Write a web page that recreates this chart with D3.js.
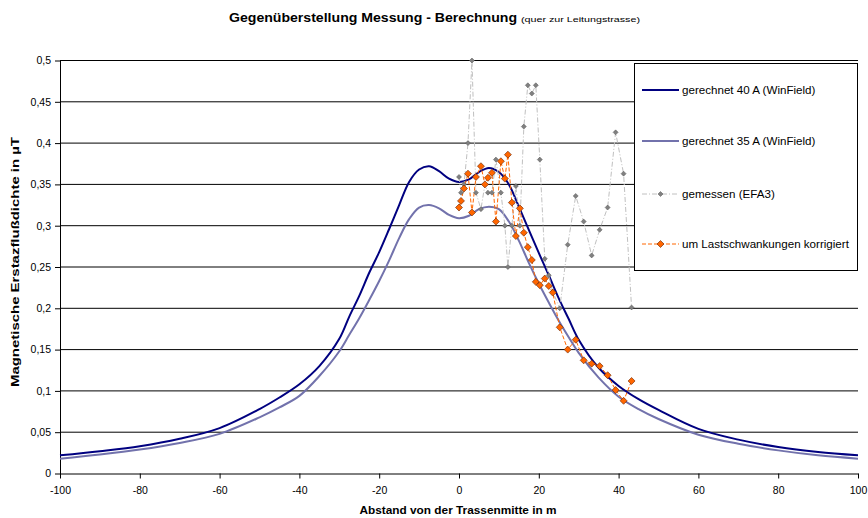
<!DOCTYPE html>
<html>
<head>
<meta charset="utf-8">
<script src="https://cdn.jsdelivr.net/npm/d3@7"></script>
<style>
  body { margin: 0; background: #fff; }
  text { font-family: Arial, "Liberation Sans", sans-serif; }
</style>
</head>
<body>
<svg id="chart" width="868" height="518"></svg>
<script>
// computed curves (WinField)
var calcX = [-100, -90, -80, -70, -60, -50, -45, -40, -35, -30, -27.5, -25, -22.5, -20, -17.5, -15, -12.5, -10, -7.5, -5, -2.5,
  0, 2.5, 5, 7.5, 10, 12.5, 15, 17.5, 20, 22.5, 25, 27.5, 30, 35, 40, 45, 50, 60, 70, 80, 90, 100];
var calc40 = [0.022, 0.027, 0.033, 0.042, 0.055, 0.078, 0.092, 0.108, 0.13, 0.163, 0.19, 0.215, 0.243, 0.268, 0.296, 0.325, 0.353, 0.368, 0.372, 0.366, 0.357,
  0.353, 0.356, 0.365, 0.37, 0.365, 0.35, 0.323, 0.295, 0.267, 0.24, 0.212, 0.187, 0.162, 0.128, 0.106, 0.09, 0.077, 0.054, 0.041, 0.032, 0.026, 0.022];
var calc35 = [0.018, 0.023, 0.029, 0.037, 0.048, 0.068, 0.08, 0.094, 0.118, 0.148, 0.168, 0.188, 0.21, 0.233, 0.258, 0.285, 0.308, 0.322, 0.325, 0.321, 0.313,
  0.309, 0.312, 0.32, 0.323, 0.32, 0.305, 0.282, 0.255, 0.23, 0.207, 0.185, 0.165, 0.146, 0.116, 0.093, 0.078, 0.066, 0.047, 0.036, 0.028, 0.022, 0.018];

// measurement positions and values
var measX = [0, 0.5, 1.25, 2.25, 3.25, 4.25, 5.5, 6.5, 7.25, 8.25, 9.25, 10.5, 11.5, 12.25, 13.25, 14.25, 15.25, 16.25, 17.25, 18.25, 19.25, 20.25,
  21.5, 22.5, 23.5, 25.25, 27.25, 29.25, 31.25, 33.25, 35.25, 37.25, 39.25, 41.25, 43.25];
var measured = [0.359, 0.34, 0.35, 0.4, 0.5, 0.34, 0.32, 0.35, 0.34, 0.34, 0.38, 0.34, 0.3, 0.25, 0.3, 0.348, 0.30, 0.42, 0.47, 0.46, 0.47, 0.38,
  0.26, 0.24, 0.22, 0.2, 0.277, 0.336, 0.305, 0.264, 0.295, 0.322, 0.413, 0.363, 0.201];
var corrected = [0.322, 0.33, 0.345, 0.363, 0.316, 0.359, 0.372, 0.35, 0.358, 0.364, 0.305, 0.378, 0.357, 0.386, 0.328, 0.2875, 0.321, 0.2915, 0.274, 0.2585, 0.232, 0.228,
  0.236, 0.227, 0.219, 0.177, 0.15, 0.162, 0.137, 0.133, 0.13, 0.119, 0.101, 0.088, 0.112];

var xTicks = [-100, -80, -60, -40, -20, 0, 20, 40, 60, 80, 100];
var yTicks = [0, 0.05, 0.1, 0.15, 0.2, 0.25, 0.3, 0.35, 0.4, 0.45, 0.5];
var legendLabels = ['gerechnet 40 A (WinField)', 'gerechnet 35 A (WinField)', 'gemessen (EFA3)', 'um Lastschwankungen korrigiert'];

var svg = d3.select('#chart');
var pL = 60, pR = 858, pT = 60.5, pB = 473.5;

var x = d3.scaleLinear().domain([-100, 100]).range([pL, pR]);
var y = d3.scaleLinear().domain([0, 0.5]).range([pB, pT]);

// gridlines
svg.append('g').selectAll('line')
  .data(yTicks.filter(function(d) { return d > 0; }))
  .enter().append('line')
    .attr('x1', pL).attr('x2', pR)
    .attr('y1', function(d) { return y(d); })
    .attr('y2', function(d) { return y(d); })
    .attr('stroke', '#000').attr('stroke-width', 1);

var comma = function(d) { return String(d).replace('.', ','); };

var xAxis = svg.append('g')
  .attr('transform', 'translate(0,' + pB + ')')
  .call(d3.axisBottom(x).tickValues(xTicks).tickSize(5).tickSizeOuter(0).tickFormat(comma));
var yAxis = svg.append('g')
  .attr('transform', 'translate(' + pL + ',0)')
  .call(d3.axisLeft(y).tickValues(yTicks).tickSize(5).tickSizeOuter(0).tickFormat(comma));
[xAxis, yAxis].forEach(function(a) {
  a.selectAll('text').attr('font-size', 10.5).attr('fill', '#000')
    .attr('font-family', 'Arial, "Liberation Sans", sans-serif');
  a.selectAll('line,path').attr('stroke', '#000');
});
xAxis.selectAll('text').attr('dy', '1.15em');
yAxis.selectAll('text').attr('x', -9);

var pts = function(xs, ys) { return xs.map(function(v, i) { return [v, ys[i]]; }); };

var smooth = d3.line()
  .x(function(d) { return x(d[0]); })
  .y(function(d) { return y(d[1]); })
  .curve(d3.curveCatmullRom.alpha(0.5));
var straight = d3.line()
  .x(function(d) { return x(d[0]); })
  .y(function(d) { return y(d[1]); });

svg.append('path').datum(pts(calcX, calc35))
  .attr('d', smooth).attr('fill', 'none').attr('stroke', '#7272ac').attr('stroke-width', 2);
svg.append('path').datum(pts(calcX, calc40))
  .attr('d', smooth).attr('fill', 'none').attr('stroke', '#000080').attr('stroke-width', 2);

// measured
svg.append('path').datum(pts(measX, measured))
  .attr('d', straight).attr('fill', 'none').attr('stroke', '#c0c0c0')
  .attr('stroke-width', 1).attr('stroke-dasharray', '5,2,1,2');
svg.append('path').datum(pts(measX, corrected))
  .attr('d', straight).attr('fill', 'none').attr('stroke', '#ff6600')
  .attr('stroke-width', 1).attr('stroke-dasharray', '4,2');

var diamond = function(r) { return 'M0,' + (-r) + 'L' + r + ',0L0,' + r + 'L' + (-r) + ',0Z'; };

svg.append('g').selectAll('path')
  .data(pts(measX, measured))
  .enter().append('path')
    .attr('d', diamond(2.5))
    .attr('transform', function(d) { return 'translate(' + x(d[0]) + ',' + y(d[1]) + ')'; })
    .attr('fill', '#808080').attr('stroke', '#555').attr('stroke-width', 0.5);
svg.append('g').selectAll('path')
  .data(pts(measX, corrected))
  .enter().append('path')
    .attr('d', diamond(3.5))
    .attr('transform', function(d) { return 'translate(' + x(d[0]) + ',' + y(d[1]) + ')'; })
    .attr('fill', '#ff6600').attr('stroke', '#662200').attr('stroke-width', 0.6);

// legend
var lg = svg.append('g');
lg.append('rect').attr('x', 634.5).attr('y', 63.5).attr('width', 223).attr('height', 207)
  .attr('fill', '#fff').attr('stroke', '#000');
var lgY = [90, 141, 194, 244];
var lgStroke = ['#000080', '#7272ac', '#c0c0c0', '#ff6600'];
var lgDash = [null, null, '5,2,1,2', '4,2'];
legendLabels.forEach(function(t, i) {
  lg.append('line').attr('x1', 642).attr('x2', 679).attr('y1', lgY[i]).attr('y2', lgY[i])
    .attr('stroke', lgStroke[i]).attr('stroke-width', i < 2 ? 2 : 1).attr('stroke-dasharray', lgDash[i]);
  if (i == 2) lg.append('path').attr('d', diamond(2.5)).attr('transform', 'translate(660.5,' + lgY[i] + ')')
    .attr('fill', '#808080').attr('stroke', '#555').attr('stroke-width', 0.5);
  if (i == 3) lg.append('path').attr('d', diamond(3.5)).attr('transform', 'translate(660.5,' + lgY[i] + ')')
    .attr('fill', '#ff6600').attr('stroke', '#662200').attr('stroke-width', 0.6);
  lg.append('text').attr('x', 682).attr('y', lgY[i]).attr('dy', '0.35em')
    .attr('font-size', 11.6).text(t);
});

// titles
svg.append('text').attr('x', 229).attr('y', 22)
  .attr('font-size', 12).attr('font-weight', 'bold')
  .attr('textLength', 288).attr('lengthAdjust', 'spacingAndGlyphs')
  .text('Gegenüberstellung Messung - Berechnung');
svg.append('text').attr('x', 521).attr('y', 22)
  .attr('font-size', 8)
  .attr('textLength', 119).attr('lengthAdjust', 'spacingAndGlyphs')
  .text('(quer zur Leitungstrasse)');

svg.append('text').attr('x', 458).attr('y', 514).attr('text-anchor', 'middle')
  .attr('font-size', 11).attr('font-weight', 'bold')
  .attr('textLength', 197).attr('lengthAdjust', 'spacingAndGlyphs')
  .text('Abstand von der Trassenmitte in m');
svg.append('text').attr('transform', 'translate(19,262)rotate(-90)').attr('text-anchor', 'middle')
  .attr('font-size', 10.5).attr('font-weight', 'bold')
  .attr('textLength', 250).attr('lengthAdjust', 'spacingAndGlyphs')
  .text('Magnetische Erstazflußdichte in µT');
</script>
</body>
</html>
